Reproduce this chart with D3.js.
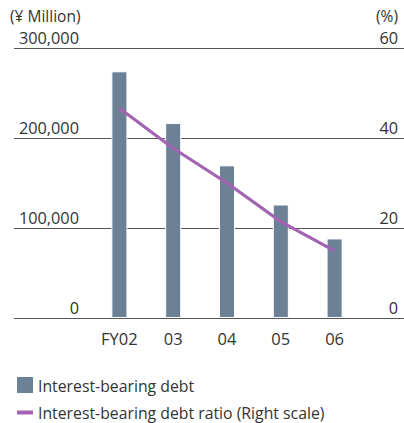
<!DOCTYPE html>
<html><head><meta charset="utf-8">
<script src="https://cdn.jsdelivr.net/npm/d3@7"></script>
<style>body{margin:0;background:#fff}svg{display:block}text{font-family:"Open Sans",sans-serif;fill:#333}</style>
</head><body><svg id="c" width="404" height="423"></svg>
<script>
const categories = ["FY02","03","04","05","06"];
const debt = [273000, 215500, 168500, 125000, 87300];
const ratio = [46.5, 37.6, 29.9, 21.3, 14.8];
const leftTicks = [0, 100000, 200000, 300000];
const rightTicks = [0, 20, 40, 60];
const legendLabels = ["Interest-bearing debt", "Interest-bearing debt ratio (Right scale)"];

const svg = d3.select("#c");
const barColor = "#6c8196", lineColor = "#a264b2", gridColor = "#555";
const y = d3.scaleLinear().domain([0, 300000]).range([317.5, 47.5]);
const y2 = d3.scaleLinear().domain([0, 60]).range([317.5, 47.5]);
const x = d3.scaleBand().domain(categories).range([92.5, 361.5]).paddingInner(0.72).paddingOuter(0.36);
const fmt = d3.format(",");

svg.append("g").selectAll("line").data(leftTicks).join("line")
  .attr("x1", 14).attr("x2", 404).attr("y1", d => Math.round(y(d)) + 0.5).attr("y2", d => Math.round(y(d)) + 0.5)
  .attr("stroke", gridColor).attr("stroke-width", 1);

svg.append("g").selectAll("text").data(leftTicks).join("text")
  .attr("x", 79).attr("y", d => y(d) - 4).attr("text-anchor", "end").attr("font-size", 16.3).text(d => fmt(d));
svg.append("g").selectAll("text").data(rightTicks).join("text")
  .attr("x", 398).attr("y", d => y2(d) - 4).attr("text-anchor", "end").attr("font-size", 16.3).text(d => d);

svg.append("text").attr("x", 10).attr("y", 22).attr("font-size", 15.5).text("(¥ Million)");
svg.append("text").attr("x", 398).attr("y", 22).attr("text-anchor", "end").attr("font-size", 15.5).text("(%)");

svg.append("g").selectAll("rect").data(debt).join("rect")
  .attr("x", (d, i) => x(categories[i])).attr("width", x.bandwidth())
  .attr("y", d => y(d)).attr("height", d => y(0) - y(d))
  .attr("fill", barColor).attr("stroke", "#fff").attr("stroke-width", 1);

const line = d3.line().x((d, i) => x(categories[i]) + x.bandwidth() / 2).y(d => y2(d));
svg.append("path").datum(ratio).attr("d", line).attr("fill", "none")
  .attr("stroke", lineColor).attr("stroke-width", 3.2);

svg.append("g").selectAll("text").data(categories).join("text")
  .attr("x", d => x(d) + x.bandwidth() / 2).attr("y", 345).attr("text-anchor", "middle").attr("font-size", 16.5).text(d => d);

svg.append("rect").attr("x", 17).attr("y", 377).attr("width", 16).attr("height", 16).attr("fill", barColor);
svg.append("text").attr("x", 38).attr("y", 392).attr("font-size", 15.8).text(legendLabels[0]);
svg.append("line").attr("x1", 17).attr("x2", 33).attr("y1", 412.5).attr("y2", 412.5).attr("stroke", lineColor).attr("stroke-width", 4);
svg.append("text").attr("x", 38).attr("y", 419).attr("font-size", 15.8).text(legendLabels[1]);
</script></body></html>
